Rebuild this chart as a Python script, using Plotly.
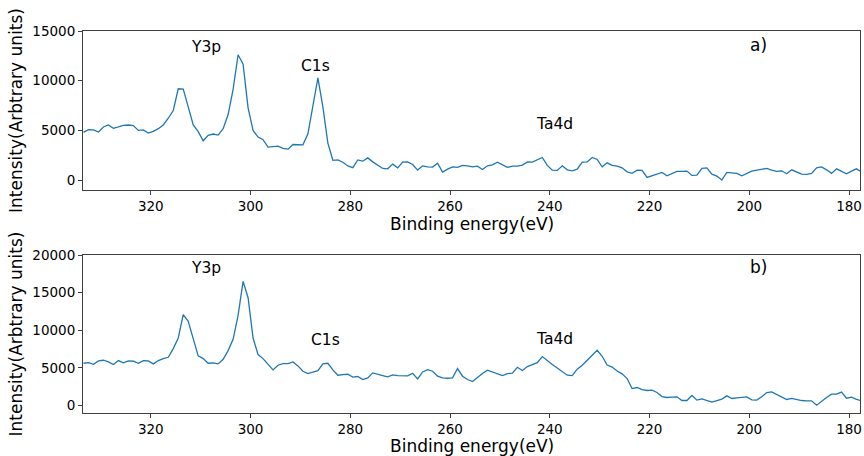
import numpy as np
import plotly.graph_objects as go

# Binding energy grid (eV), 1 eV steps
be_start = 333.5
be_step = 1.0
n_pts = 157
binding_energy = be_start - be_step * np.arange(n_pts)

# Panel a) intensities (arbitrary units)
intensity_a = [
    4800, 5070, 5040, 4830, 5340, 5540, 5200, 5340, 5510, 5540,
    5480, 5000, 5040, 4730, 4900, 5170, 5540, 6220, 7000, 9190,
    9160, 7370, 5540, 4870, 3950, 4500, 4630, 4530, 5170, 6590,
    9130, 12610, 11660, 7270, 5000, 4330, 4060, 3310, 3350, 3410,
    3180, 3110, 3580, 3550, 3550, 4660, 7440, 10280, 7370, 3720,
    1990, 2030, 1790, 1420, 1250, 2030, 1900, 2230, 1830, 1500,
    1170, 1130, 1600, 1230, 1800, 1830, 1570, 1000, 1430, 1330,
    1300, 1700, 800, 1100, 1330, 1270, 1470, 1430, 1330, 1400,
    1070, 1430, 1530, 1800, 1530, 1270, 1400, 1400, 1500, 1830,
    1800, 2070, 2270, 1470, 1000, 970, 1430, 1030, 930, 1100,
    1800, 1830, 2270, 2070, 1330, 1730, 1470, 1400, 1230, 830,
    670, 1000, 970, 270, 430, 630, 770, 430, 670, 870,
    870, 900, 470, 500, 1170, 1230, 600, 400, 0, 770,
    730, 670, 430, 630, 900, 1000, 1100, 1170, 1000, 870,
    930, 630, 1030, 830, 600, 570, 670, 1230, 1330, 1030,
    670, 1130, 900, 630, 900, 1130, 830,
]

# Panel b) intensities (arbitrary units)
intensity_b = [
    5610, 5700, 5480, 5920, 6010, 5790, 5440, 5970, 5660, 5920,
    5880, 5610, 5970, 5920, 5530, 5970, 6230, 6410, 7560, 8970,
    12070, 11180, 8880, 6590, 6230, 5610, 5660, 5530, 6140, 7290,
    8800, 11980, 16490, 14320, 8970, 6760, 6230, 5440, 4730, 5350,
    5570, 5570, 5790, 5260, 4550, 4240, 4460, 4640, 5530, 5610,
    4730, 4020, 4110, 4150, 3780, 3850, 3450, 3670, 4330, 4200,
    3980, 3800, 4070, 3980, 3980, 3930, 4290, 3540, 4460, 4770,
    4550, 3890, 3670, 3620, 3670, 4910, 3890, 3450, 3180, 3760,
    4240, 4690, 4460, 4240, 3980, 4240, 4290, 5080, 4640, 5170,
    5390, 5700, 6500, 5920, 5440, 4990, 4510, 4020, 3980, 4820,
    5350, 6060, 6670, 7340, 6540, 5370, 5100, 4580, 4200, 3580,
    2250, 2390, 2120, 1990, 2030, 1720, 1190, 1060, 1110, 1150,
    660, 660, 1330, 710, 880, 620, 440, 660, 840, 1280,
    930, 1020, 1060, 1150, 750, 710, 1150, 1720, 1810, 1460,
    1110, 800, 930, 750, 660, 620, 620, 40, 570, 1060,
    1500, 1500, 1770, 970, 1110, 800, 620,
]

x_ticks = [320, 300, 280, 260, 240, 220, 200, 180]
ya_ticks = [0, 5000, 10000, 15000]
yb_ticks = [0, 5000, 10000, 15000, 20000]

x_title = "Binding energy(eV)"
y_title = "Intensity(Arbtrary units)"

# Peak labels: (text, binding energy, intensity)
labels_a = [("Y3p", 309.0, 13440), ("C1s", 287.0, 11500), ("Ta4d", 239.1, 5620)]
labels_b = [("Y3p", 309.0, 18270), ("C1s", 285.0, 8700), ("Ta4d", 239.1, 8770)]
panel_tags = [("a)", 198.2, 13590, "x", "y"), ("b)", 198.2, 18400, "x2", "y2")]

line_col = "#1f77b4"
axis_col = "#404040"
font_fam = "DejaVu Sans"

fig = go.Figure()
fig.add_trace(go.Scatter(x=binding_energy, y=intensity_a, mode="lines",
                         line=dict(color=line_col, width=1.3),
                         xaxis="x", yaxis="y", showlegend=False))
fig.add_trace(go.Scatter(x=binding_energy, y=intensity_b, mode="lines",
                         line=dict(color=line_col, width=1.3),
                         xaxis="x2", yaxis="y2", showlegend=False))

common_x = dict(range=[333.6, 177.8], tickvals=x_ticks,
                ticktext=[str(v) for v in x_ticks],
                ticks="outside", ticklen=4, tickcolor=axis_col, tickwidth=1,
                showline=True, linecolor=axis_col, linewidth=1, mirror=True,
                showgrid=False, zeroline=False,
                tickfont=dict(family=font_fam, size=13.5, color="black"))
common_y = dict(ticks="outside", ticklen=4, tickcolor=axis_col, tickwidth=1,
                showline=True, linecolor=axis_col, linewidth=1, mirror=True,
                showgrid=False, zeroline=False,
                tickfont=dict(family=font_fam, size=13.5, color="black"),
                title=dict(text=y_title, standoff=5,
                           font=dict(family=font_fam, size=17, color="black")))

annotations = []
for txt, xv, yv in labels_a:
    annotations.append(dict(text=txt, x=xv, y=yv, xref="x", yref="y",
                            showarrow=False, font=dict(family=font_fam, size=15.5, color="black")))
for txt, xv, yv in labels_b:
    annotations.append(dict(text=txt, x=xv, y=yv, xref="x2", yref="y2",
                            showarrow=False, font=dict(family=font_fam, size=15.5, color="black")))
for txt, xv, yv, xr, yr in panel_tags:
    annotations.append(dict(text=txt, x=xv, y=yv, xref=xr, yref=yr,
                            showarrow=False, font=dict(family=font_fam, size=17, color="black")))
# x-axis titles placed under each panel
for ypos in (0.4955, -0.0851):
    annotations.append(dict(text=x_title, x=0.5, y=ypos, xref="paper", yref="paper",
                            xanchor="center", yanchor="middle", showarrow=False,
                            borderpad=0,
                            font=dict(family=font_fam, size=17, color="black")))

fig.update_layout(
    width=864, height=456,
    margin=dict(l=83, r=2, t=31, b=43),
    paper_bgcolor="white", plot_bgcolor="white",
    font=dict(family=font_fam, color="black"),
    xaxis=dict(domain=[0, 1], anchor="y", **common_x),
    yaxis=dict(domain=[0.5838, 1.0], anchor="x", range=[-1000, 15000],
               tickvals=ya_ticks, ticktext=[str(v) for v in ya_ticks], **common_y),
    xaxis2=dict(domain=[0, 1], anchor="y2", **common_x),
    yaxis2=dict(domain=[0, 0.4136], anchor="x2", range=[-1000, 20000],
                tickvals=yb_ticks, ticktext=[str(v) for v in yb_ticks], **common_y),
    annotations=annotations,
    showlegend=False,
)

fig.write_html("out.html")
